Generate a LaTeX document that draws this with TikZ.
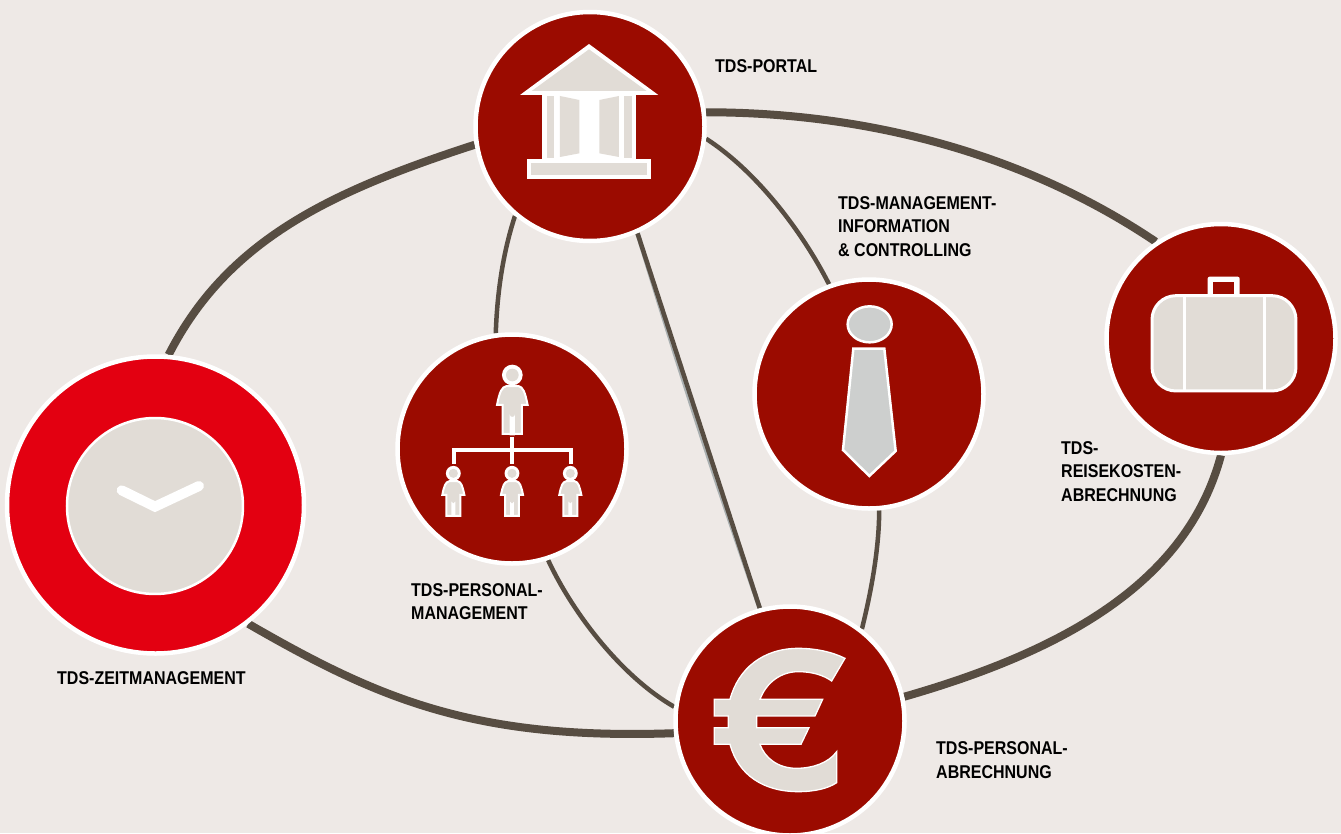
\documentclass[tikz,border=0pt]{standalone}
\usepackage{fontspec}
\usetikzlibrary{backgrounds}
\newfontfamily\labfont[FakeStretch=0.865]{Liberation Sans}
\definecolor{bgc}{HTML}{EEE9E6}
\definecolor{darkred}{HTML}{9B0B00}
\definecolor{brightred}{HTML}{E30011}
\definecolor{iconc}{HTML}{E1DCD6}
\definecolor{tiec}{HTML}{CDCFCE}
\definecolor{linkc}{HTML}{574D42}
\definecolor{shadowc}{HTML}{A9AFB0}
\tikzset{
  hub/.style={circle,fill=darkred,draw=white,line width=4.5pt,minimum size=229pt,inner sep=0pt},
  clockhub/.style={circle,fill=brightred,draw=white,line width=4.5pt,minimum size=297pt,inner sep=0pt},
  thicklink/.style={draw=linkc,line width=8pt},
  thinlink/.style={draw=linkc,line width=4.5pt},
  lab/.style={font=\labfont\bfseries\fontsize{18.5pt}{23.5pt}\selectfont,align=left,anchor=west,inner sep=0pt,text=black},
  zoomed/.style 2 args={x=.3333pt,y=-.3333pt,shift={(#1pt,-#2pt)}},
  ic/.style={fill=iconc},
  wh/.style={fill=white},
  outl/.style={fill=iconc,draw=white,line width=2pt,line join=miter}
}
\newcommand{\personicon}[3]{%
\begin{scope}[shift={(#1,#2)},scale=#3]
  \path[wh] (0,0) circle (31);
  \path[ic] (0,0) circle (19);
  \path[outl] (-17,33) -- (18,33) .. controls (32,36) and (38,50) .. (46,90) -- (29,90) -- (29,177) -- (-29,177) -- (-29,90) -- (-46,90) .. controls (-38,50) and (-32,36) .. (-17,33) -- cycle;
  \path[wh] (-8,181) -- (-8,118) arc[start angle=180,end angle=0,radius=8] -- (8,181) -- cycle;
\end{scope}}
\begin{document}
\begin{tikzpicture}[x=1pt,y=-1pt]
\useasboundingbox (0,0) rectangle (1341,833);
\begin{scope}
\clip (0,0) rectangle (1341,833);
\node[hub] (portal) at (590,126.5) {};
\node[hub] (staff) at (512,449) {};
\node[hub] (payroll) at (790,721) {};
\node[hub] (travel) at (1221,338.5) {};
\node[hub] (mgmt) at (869,394) {};
\node[clockhub] (clock) at (155.5,505) {};
\end{scope}
\node[lab] (lportal) at (715,66.5) {TDS-PORTAL};
\node[lab] (lmgmt) at (838,226.5) {TDS-MANAGEMENT-\\INFORMATION\\\&{} CONTROLLING};
\node[lab] (ltravel) at (1061,471.5) {TDS-\\REISEKOSTEN-\\ABRECHNUNG};
\node[lab] (lstaff) at (411,601.5) {TDS-PERSONAL-\\MANAGEMENT};
\node[lab] (lclock) at (57,678) {TDS-ZEITMANAGEMENT};
\node[lab] (lpay) at (936,760) {TDS-PERSONAL-\\ABRECHNUNG};
% connectors
\begin{pgfonlayer}{background}
\fill[bgc] (0,0) rectangle (1341,833);
\draw[thicklink] (portal.189) .. controls +(198:150pt) and +(63:130pt) .. (clock.85);
\draw[thicklink] (portal.7) .. controls +(0:170pt) and +(146:150pt) .. (travel.124);
\draw[thicklink] (travel.-90) .. controls +(-105:130pt) and +(16:170pt) .. (payroll.12);
\draw[thicklink] (clock.-52) .. controls +(-30:150pt) and +(182:200pt) .. (payroll.186);
\draw[thinlink] (portal.230) .. controls +(252:40pt) and +(88:40pt) .. (staff.98);
\draw[thinlink,draw=shadowc] (portal.-66) to[bend right=1] (payroll.105);
\draw[thinlink] (portal.-66) -- (payroll.105);
\draw[thinlink] (portal.-6) .. controls +(-33:60pt) and +(117:60pt) .. (mgmt.110);
\draw[thinlink] (staff.-72) .. controls +(-65:60pt) and +(150:60pt) .. (payroll.173);
\draw[thinlink] (mgmt.-85) .. controls +(-90:40pt) and +(76:35pt) .. (payroll.52);
\end{pgfonlayer}
% portal icon
\begin{scope}[zoomed={470}{10}]
\path[wh] (357,102) -- (150,255) -- (565,255) -- cycle;
\path[ic] (357,118) -- (185,243) -- (530,243) -- cycle;
\path[wh] (217,250) rectangle (498,450);
\path[ic] (230,258) rectangle (252,444);
\path[ic] (463,258) rectangle (486,444);
\path[ic] (270,258) -- (328,270) -- (328,430) -- (270,441) -- cycle;
\path[ic] (388,270) -- (447,258) -- (447,441) -- (388,430) -- cycle;
\path[wh] (172,447) rectangle (544,507);
\path[ic] (184,459) rectangle (532,495);
\end{scope}
% staff icon
\begin{scope}[zoomed={395}{330}]
\personicon{352}{135}{1}
\personicon{175}{430}{.72}
\personicon{351}{430}{.72}
\personicon{526}{430}{.72}
\path[wh] (346,322) rectangle (358,403);
\path[wh] (172,353) rectangle (533,365);
\path[wh] (172,353) rectangle (184,402);
\path[wh] (521,353) rectangle (533,402);
\end{scope}
% euro icon
\begin{scope}[zoomed={675}{605}]
\path[outl,line width=1.3pt] (510,160) .. controls (470,140) and (420,130) .. (370,130)
 .. controls (265,130) and (190,190) .. (165,283) -- (118,283) -- (118,333) -- (160,333) -- (160,368) -- (118,368) -- (118,418) -- (165,418)
 .. controls (190,510) and (265,560) .. (370,560) .. controls (420,560) and (460,550) .. (485,533)
 -- (485,440) .. controls (460,475) and (410,490) .. (365,490) .. controls (310,490) and (270,460) .. (255,418)
 -- (378,418) -- (402,368) -- (245,368) -- (245,333) -- (420,333) -- (443,283) -- (255,283)
 .. controls (275,230) and (320,200) .. (370,200) .. controls (410,200) and (445,210) .. (470,228) -- cycle;
\end{scope}
% travel icon
\begin{scope}[zoomed={1105}{220}]
\path[fill=white,rounded corners=2pt] (308,170) rectangle (404,232);
\path[fill=darkred] (324,186) rectangle (388,226);
\path[outl,line width=3pt,rounded corners=24pt] (141,227) rectangle (573,513);
\path[wh] (233,227) rectangle (243,513);
\path[wh] (473,227) rectangle (484,513);
\end{scope}
% management icon
\begin{scope}[zoomed={750}{275}]
\path[outl,fill=tiec,line width=2.5pt] (359,148) ellipse [x radius=66,y radius=54];
\path[outl,fill=tiec,line width=2.5pt] (310,221) -- (403,221) -- (437,528) -- (358,603) -- (279,525) -- cycle;
\end{scope}
% clock icon
\begin{scope}[zoomed={60}{410}]
\path[fill=iconc,draw=white,line width=2.5pt] (285,288) circle (264);
\draw[white,line width=10pt,line cap=round,line join=miter] (185,241) -- (285,290) -- (417,228);
\end{scope}
\end{tikzpicture}
\end{document}
